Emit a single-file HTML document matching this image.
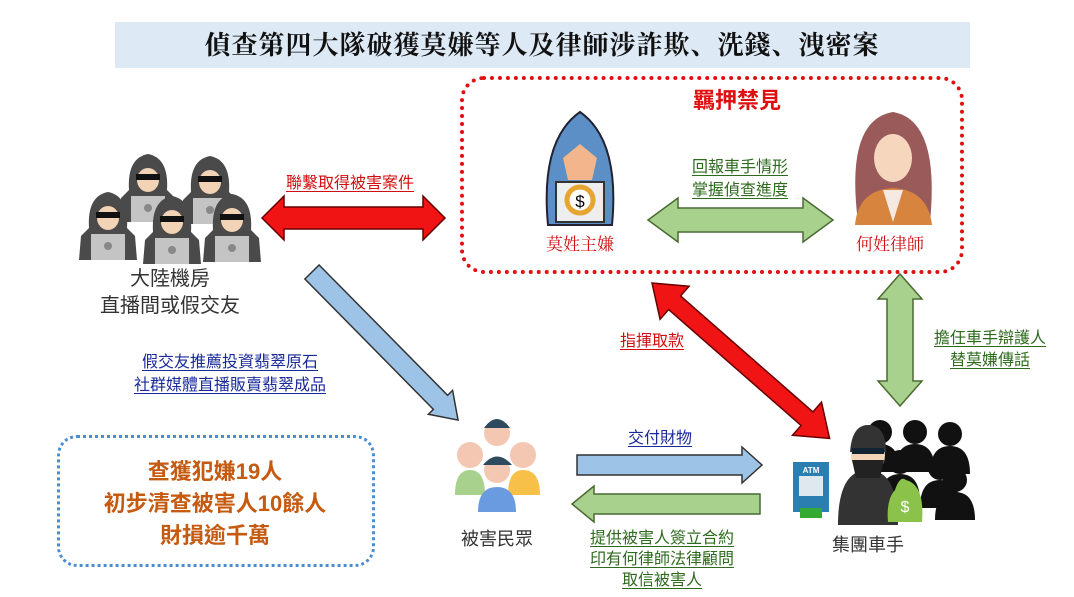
<!DOCTYPE html>
<html><head><meta charset="utf-8"><style>
body{margin:0;width:1074px;height:597px;background:#fff;position:relative;overflow:hidden;font-family:"Liberation Sans","Noto Sans CJK TC",sans-serif}
.t{position:absolute;white-space:nowrap;transform:translateX(-50%);line-height:1}
.u{text-decoration:underline;text-underline-offset:3px}
</style></head><body>
<div style="position:absolute;left:115px;top:22px;width:855px;height:46px;background:#dde9f5"></div>
<div class="t" style="left:542px;top:31px;font-size:26px;font-weight:bold;font-family:'Noto Serif CJK SC','Liberation Serif',serif;color:#111;letter-spacing:1px">偵查第四大隊破獲莫嫌等人及律師涉詐欺、洗錢、洩密案</div>
<div style="position:absolute;left:460px;top:76px;width:496px;height:190px;border:4px dotted #e01010;border-radius:24px"></div>
<div style="position:absolute;left:57px;top:435px;width:312px;height:126px;border:3px dotted #4a8ed0;border-radius:20px"></div>
<svg width="1074" height="597" style="position:absolute;left:0;top:0">
<defs>
<g id="hood"><path d="M-19,0 Q-21,-32 0,-36 Q21,-32 19,0 L27,8 L29,32 L-29,32 L-27,8Z" fill="#4a4a4a"/><ellipse cx="0" cy="-10" rx="11" ry="12" fill="#f2d3b5"/><rect x="-12" y="-16" width="24" height="6" fill="#111"/><rect x="-17" y="6" width="34" height="26" fill="#c4c4c4"/><circle cx="0" cy="18" r="4" fill="#888"/></g>
<g id="blk"><circle cx="0" cy="0" r="12" fill="#111"/><path d="M-20,40 Q-20,12 0,12 Q20,12 20,40Z" fill="#111"/></g>
</defs>
<use href="#hood" x="148" y="190"/><use href="#hood" x="210" y="192"/>
<use href="#hood" x="108" y="228"/><use href="#hood" x="172" y="232"/><use href="#hood" x="232" y="230"/>
<path d="M548,225 Q540,140 580,112 Q620,140 612,225Z" fill="#5b8fc6" stroke="#223" stroke-width="2"/>
<path d="M563,158 L580,144 L597,158 L592,180 L568,180Z" fill="#f3b58c"/>
<rect x="556" y="182" width="48" height="40" fill="#eee" stroke="#333" stroke-width="2"/>
<circle cx="580" cy="200" r="13" fill="#fff" stroke="#e6a530" stroke-width="5"/><text x="580" y="207" font-size="17" text-anchor="middle" font-family="Liberation Sans">$</text>
<path d="M858,222 Q845,120 893,112 Q940,120 930,222Z" fill="#9a5a5a"/>
<ellipse cx="893" cy="158" rx="19" ry="24" fill="#f6d6bd"/>
<path d="M855,225 Q858,190 893,188 Q928,190 932,225Z" fill="#d7843f"/>
<path d="M883,190 L893,222 L903,190Z" fill="#f5e9e2"/>
<circle cx="497" cy="433" r="13" fill="#f3c7b1"/><path d="M484,428 Q497,410 510,428Z" fill="#2e4a5e"/>
<circle cx="470" cy="455" r="13" fill="#f3c7b1"/><circle cx="523" cy="455" r="13" fill="#f3c7b1"/>
<path d="M455,495 Q455,470 470,470 Q485,470 485,495Z" fill="#a8d18e"/><path d="M508,495 Q508,470 523,470 Q540,470 540,495Z" fill="#f7c048"/>
<circle cx="497" cy="470" r="13" fill="#f3c7b1"/><path d="M483,465 Q497,448 512,465Z" fill="#2e4a5e"/>
<path d="M478,512 Q478,487 497,487 Q516,487 516,512Z" fill="#6a9be0"/>
<use href="#blk" x="880" y="432"/><use href="#blk" x="915" y="432"/><use href="#blk" x="950" y="434"/>
<use href="#blk" x="900" y="462"/><use href="#blk" x="940" y="468"/><use href="#blk" x="955" y="480"/>
<path d="M838,525 Q838,470 868,470 Q898,470 898,525Z" fill="#333"/>
<ellipse cx="868" cy="455" rx="17" ry="20" fill="#f2d3b5"/><path d="M850,452 Q852,425 868,425 Q886,425 886,452Z" fill="#333"/><rect x="852" y="448" width="32" height="6" fill="#123"/><path d="M852,460 L884,460 L880,478 L856,478Z" fill="#222"/>
<path d="M895,490 Q900,475 906,480 Q925,485 922,522 L888,522 Q886,500 895,490Z" fill="#8bc34a"/><text x="905" y="512" fill="#fff" font-size="16" text-anchor="middle">$</text>
<rect x="793" y="462" width="36" height="50" fill="#2a7fb0"/><rect x="799" y="476" width="24" height="20" fill="#dfe8ef"/><text x="811" y="473" font-size="8" fill="#fff" text-anchor="middle" font-weight="bold">ATM</text><rect x="800" y="508" width="22" height="10" fill="#3a3"/>
<g stroke-width="1.5">
<polygon transform="translate(262,218)" points="0,0 22,-22 22,-11 161,-11 161,-22 183,0 161,22 161,11 22,11 22,22" fill="#f01414" stroke="#600"/>
<polygon transform="translate(648,220)" points="0,0 30,-22 30,-12 155,-12 155,-22 185,0 155,22 155,12 30,12 30,22" fill="#a9d18e" stroke="#4a6a30"/>
<polygon transform="translate(652,283) rotate(41.2)" points="0,0 30,-22 30,-9 206,-9 206,-22 236,0 206,22 206,9 30,9 30,22" fill="#f01414" stroke="#600"/>
<polygon transform="translate(900,274) rotate(90)" points="0,0 25,-22 25,-13 107,-13 107,-22 132,0 107,22 107,13 25,13 25,22" fill="#a9d18e" stroke="#4a6a30"/>
<polygon transform="translate(312,272) rotate(45.4)" points="0,-10 183,-10 183,-17 208,0 183,17 183,10 0,10" fill="#9dc3e6" stroke="#333"/>
<polygon transform="translate(577,465)" points="0,-10 165,-10 165,-18 185,0 165,18 165,10 0,10" fill="#9dc3e6" stroke="#333"/>
<polygon transform="translate(760,504) rotate(180)" points="0,-10 166,-10 166,-18 188,0 166,18 166,10 0,10" fill="#a9d18e" stroke="#4a6a30"/>
</g>
</svg>
<div class="t" style="left:737px;top:90px;font-size:22px;color:#e01010;font-weight:bold">羈押禁見</div>
<div class="t" style="left:580px;top:234px;font-size:17px;color:#d01010;font-family:'Noto Serif CJK SC',serif">莫姓主嫌</div>
<div class="t" style="left:890px;top:234px;font-size:17px;color:#d01010;font-family:'Noto Serif CJK SC',serif">何姓律師</div>
<div class="t u" style="left:740px;top:156px;font-size:16px;color:#2e6b1e;line-height:23px">回報車手情形<br>掌握偵查進度</div>
<div class="t u" style="left:350px;top:176px;font-size:16px;color:#d01010">聯繫取得被害案件</div>
<div class="t" style="left:170px;top:266px;font-size:20px;color:#333;text-align:center;line-height:27px">大陸機房<br>直播間或假交友</div>
<div class="t u" style="left:230px;top:351px;font-size:16px;color:#1a2a9a;text-align:center;line-height:23px">假交友推薦投資翡翠原石<br>社群媒體直播販賣翡翠成品</div>
<div class="t" style="left:215px;top:456px;font-size:22px;color:#c55a11;font-weight:bold;text-align:center;line-height:32px">查獲犯嫌19人<br>初步清查被害人10餘人<br>財損逾千萬</div>
<div class="t" style="left:497px;top:530px;font-size:18px;color:#333">被害民眾</div>
<div class="t u" style="left:660px;top:431px;font-size:16px;color:#1a2a9a">交付財物</div>
<div class="t u" style="left:662px;top:528px;font-size:16px;color:#2e6b1e;text-align:center;line-height:21px">提供被害人簽立合約<br>印有何律師法律顧問<br>取信被害人</div>
<div class="t u" style="left:652px;top:334px;font-size:16px;color:#d01010">指揮取款</div>
<div class="t u" style="left:990px;top:328px;font-size:16px;color:#2e6b1e;text-align:center;line-height:22px">擔任車手辯護人<br>替莫嫌傳話</div>
<div class="t" style="left:868px;top:536px;font-size:18px;color:#333">集團車手</div>
</body></html>
